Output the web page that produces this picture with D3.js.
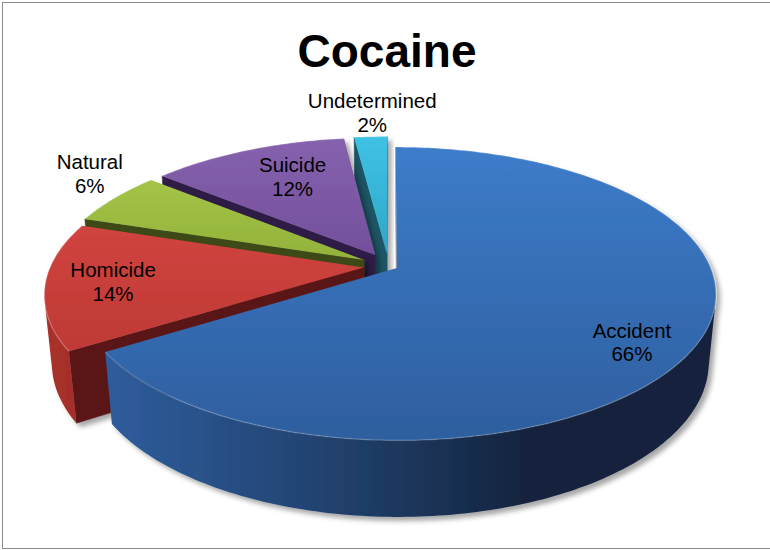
<!DOCTYPE html>
<html><head><meta charset="utf-8">
<script src="https://cdn.jsdelivr.net/npm/d3@7"></script>
<style>html,body{margin:0;padding:0;background:#fff}</style>
</head><body>
<svg id="chart" width="770" height="550"></svg>
<script>
// ---- data ----
const chartTitle = "Cocaine";
const categories = ["Accident", "Homicide", "Natural", "Suicide", "Undetermined"];
const values = [66, 14, 6, 12, 2];
const percentLabels = ["66%", "14%", "6%", "12%", "2%"];

// ---- style / layout config ----
const topColors  = [["#3d7cca", "#2e5e9e"], ["#d0443f", "#bf3935"], ["#a3c446", "#92b23a"], ["#8662ae", "#734f9c"], ["#3fc2e4", "#2ea7ca"]];
const wallColors = [["#2f5e9e", "#14243e"], ["#a8302c", "#581614"], ["#74902c", "#384515"], ["#5d3f85", "#2b1c41"], ["#22738a", "#134454"]];
const cutColors  = ["#9c9c9c", "#5a1816", "#3d4a19", "#2f1f46", "#1b5565"];
const explode = [0.03, 0.08, 0.09, 0.09, 0.09];
const labelPlace = [[125, 0.835], [262.7, 0.79], [304.8, 1.216], [334.5, 0.70], [357.3, 1.247]];

const view = {phi: 26.85 * Math.PI / 180, D: 5.11, f: 1600, ox: 388.6, oy: 266, h: 0.245};
const sinP = Math.sin(view.phi), cosP = Math.cos(view.phi);
const cam = [0, view.D * sinP, -view.D * cosP];
function project(X, Y, Z) {
  const yc = Y * cosP + Z * sinP;
  const zc = -Y * sinP + Z * cosP;
  const k = view.f / (view.D + zc);
  return [view.ox + X * k, view.oy - yc * k];
}
function facing(P, n) {
  return (cam[0] - P[0]) * n[0] + (cam[1] - P[1]) * n[1] + (cam[2] - P[2]) * n[2] > 0;
}

const svg = d3.select("#chart");
const defs = svg.append("defs");
const flt = defs.append("filter").attr("id", "shadow").attr("x", "-10%").attr("y", "-10%").attr("width", "130%").attr("height", "130%");
flt.append("feDropShadow").attr("dx", 4).attr("dy", 4).attr("stdDeviation", 2.5)
  .attr("flood-color", "#000").attr("flood-opacity", 0.35);

topColors.forEach((c, i) => {
  const g = defs.append("linearGradient").attr("id", "top" + i).attr("x1", 0).attr("y1", 0).attr("x2", 0).attr("y2", 1);
  g.append("stop").attr("offset", "0%").attr("stop-color", c[0]);
  g.append("stop").attr("offset", "100%").attr("stop-color", c[1]);
});

// border
svg.append("rect").attr("x", 2.5).attr("y", 2.5).attr("width", 780).attr("height", 546)
  .attr("fill", "none").attr("stroke", "#8a8a8a").attr("stroke-width", 1);

// title
svg.append("text").attr("x", 387).attr("y", 67).attr("text-anchor", "middle")
  .attr("font-family", "'Liberation Sans', Arial, sans-serif").attr("font-weight", "bold")
  .attr("font-size", 46).attr("fill", "#000").text(chartTitle);

const arcs = d3.pie().sort(null).value(d => d)(values);
const line = d3.line();
const Lx = -1, Lz = -0.35, Ln = Math.hypot(Lx, Lz);

const slices = arcs.map((a, i) => {
  const mid = (a.startAngle + a.endAngle) / 2;
  const e = explode[i];
  return {i, a0: a.startAngle, a1: a.endAngle, mid, dx: e * Math.sin(mid), dz: e * Math.cos(mid),
    depth: e * Math.cos(mid) + 0.5 * Math.cos(mid)};
});
slices.sort((p, q) => q.depth - p.depth);

const pieG = svg.append("g");
let gradId = 0;
slices.forEach(s => {
  const g = pieG.append("g").attr("filter", "url(#shadow)");
  const h = view.h;
  const rim = (t, Y) => project(s.dx + Math.sin(t), Y, s.dz + Math.cos(t));
  const apexT = project(s.dx, 0, s.dz), apexB = project(s.dx, -h, s.dz);
  const n = Math.max(6, Math.ceil((s.a1 - s.a0) / (Math.PI / 180)));
  const ts = d3.range(n + 1).map(j => s.a0 + (s.a1 - s.a0) * j / n);

  // cut faces
  [[s.a0, [-Math.cos(s.a0), 0, Math.sin(s.a0)]], [s.a1, [Math.cos(s.a1), 0, -Math.sin(s.a1)]]].forEach(([t, nv]) => {
    const P = [s.dx + 0.5 * Math.sin(t), -h / 2, s.dz + 0.5 * Math.cos(t)];
    if (facing(P, nv)) {
      g.append("path").attr("d", line([apexT, rim(t, 0), rim(t, -h), apexB]) + "Z")
        .attr("fill", cutColors[s.i]).attr("stroke", cutColors[s.i]).attr("stroke-width", 0.5);
    }
  });
  // outer wall: group visible samples into runs, one path per run with horizontal gradient
  const wc = wallColors[s.i];
  const interp = d3.interpolateRgb(wc[1], wc[0]);
  const vis = ts.map(t => facing([s.dx + Math.sin(t), -h / 2, s.dz + Math.cos(t)], [Math.sin(t), 0, Math.cos(t)]));
  const runs = [];
  let cur = null;
  ts.forEach((t, j) => {
    if (vis[j]) { if (!cur) { cur = []; runs.push(cur); } cur.push(t); }
    else cur = null;
  });
  runs.filter(r => r.length >= 2).forEach(run => {
    const topPts = run.map(t => rim(t, 0));
    const botPts = run.map(t => rim(t, -h)).reverse();
    const xs = topPts.map(p => p[0]);
    const xmin = d3.min(xs), xmax = d3.max(xs);
    const xScale = d3.scaleLinear().domain([xmin, xmax]).range([0, 100]);
    const id = "wall" + (gradId++);
    const lg = defs.append("linearGradient").attr("id", id).attr("gradientUnits", "userSpaceOnUse")
      .attr("x1", xmin).attr("y1", 0).attr("x2", xmax).attr("y2", 0);
    const stops = run.map((t, j) => {
      const lit = Math.max(0, (Math.sin(t) * Lx + Math.cos(t) * Lz) / Ln);
      return {o: xScale(topPts[j][0]), c: interp(lit)};
    }).sort((p, q) => p.o - q.o);
    stops.forEach(st => lg.append("stop").attr("offset", st.o + "%").attr("stop-color", st.c));
    g.append("path").attr("d", line(topPts.concat(botPts)) + "Z").attr("fill", `url(#${id})`);
  });
  // top face
  const topPts = [apexT].concat(ts.map(t => rim(t, 0)));
  g.append("path").attr("d", line(topPts) + "Z").attr("fill", `url(#top${s.i})`);
  g.append("path").attr("d", line(ts.map(t => rim(t, 0)))).attr("fill", "none")
    .attr("stroke", "#fff").attr("stroke-opacity", 0.18).attr("stroke-width", 1.5);
});

// labels
const labG = svg.append("g").attr("font-family", "'Liberation Sans', Arial, sans-serif")
  .attr("font-size", 20.5).attr("fill", "#000").attr("text-anchor", "middle");
arcs.forEach((a, i) => {
  const mid = (a.startAngle + a.endAngle) / 2;
  const e = explode[i];
  const t = labelPlace[i][0] * Math.PI / 180, r = labelPlace[i][1];
  const p = project(e * Math.sin(mid) + r * Math.sin(t), 0, e * Math.cos(mid) + r * Math.cos(t));
  labG.append("text").attr("x", p[0]).attr("y", p[1] - 4.5).text(categories[i]);
  labG.append("text").attr("x", p[0]).attr("y", p[1] + 19).text(percentLabels[i]);
});
</script>
</body></html>
